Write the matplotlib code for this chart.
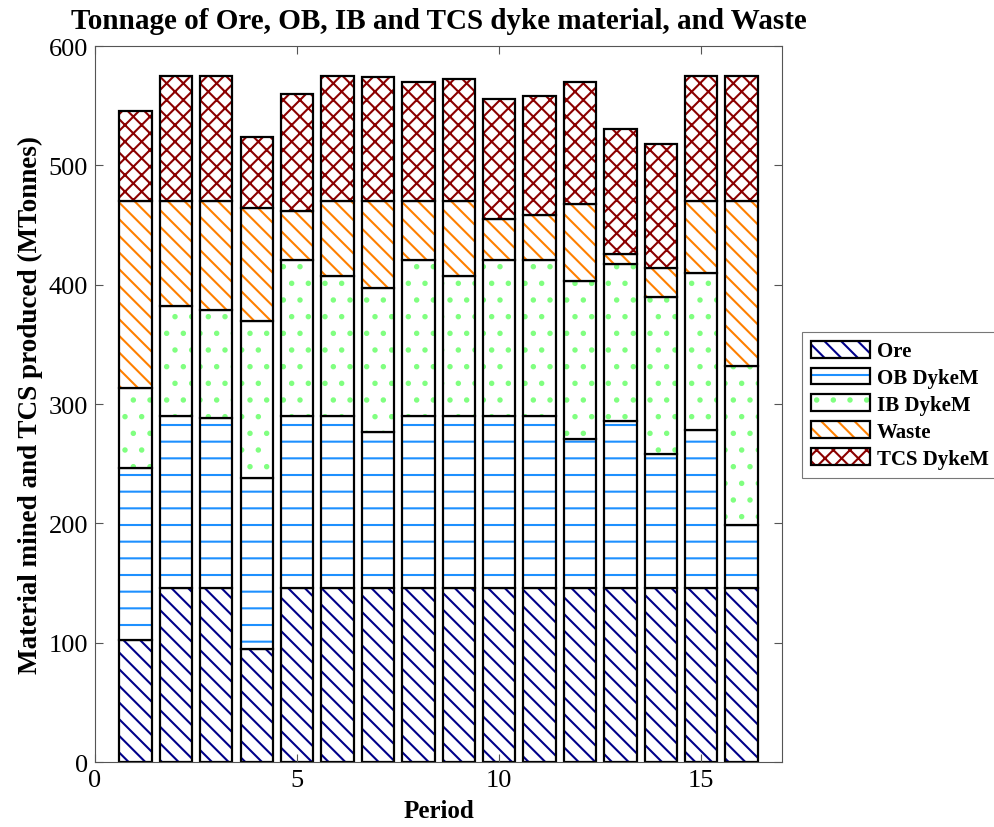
import numpy as np
import matplotlib
matplotlib.use('Agg')
import matplotlib.pyplot as plt
from matplotlib.patches import Patch

plt.rcParams['font.family'] = ['Liberation Serif', 'DejaVu Serif']
plt.rcParams['hatch.linewidth'] = 1.5

periods = np.arange(1, 17)

# tonnage per period (MTonnes)
ore = [102.5, 145.5, 145.5, 94.7, 145.5, 145.5, 145.5, 145.5,
       145.5, 145.5, 145.5, 145.5, 145.5, 145.5, 145.5, 145.5]
ob_dyke = [143.9, 144.7, 142.8, 143.3, 144.5, 144.5, 131.3, 144.5,
           144.5, 144.5, 144.5, 125.0, 140.0, 112.6, 132.7, 53.4]
ib_dyke = [67.0, 92.2, 90.5, 131.8, 131.2, 117.3, 120.2, 131.0,
           117.3, 131.2, 131.0, 133.1, 131.8, 131.3, 131.6, 132.7]
waste = [157.0, 87.6, 91.2, 94.8, 40.8, 62.7, 73.0, 49.0,
         62.7, 33.6, 37.7, 64.3, 8.9, 24.3, 60.2, 138.4]
tcs_dyke = [75.4, 104.6, 105.0, 59.7, 97.8, 105.0, 104.0, 100.1,
            102.9, 100.8, 99.4, 102.1, 104.0, 104.2, 105.0, 105.0]

names = ['Ore', 'OB DykeM', 'IB DykeM', 'Waste', 'TCS DykeM']
series = [ore, ob_dyke, ib_dyke, waste, tcs_dyke]
colors = ['#00008B', '#1E90FF', '#80FF80', '#FF8000', '#8B0000']
hatches = ['\\\\', '-', '.', '\\\\', 'xx']

fig = plt.figure(figsize=(9.95, 8.28), dpi=100)
ax = fig.add_axes([0.0955, 0.0785, 0.6905, 0.8645])

bottom = np.zeros(len(periods))
handles = []
for vals, col, h, name in zip(series, colors, hatches, names):
    vals = np.array(vals)
    # hatch layer then black outline
    ax.bar(periods, vals, 0.8, bottom=bottom, color='white', edgecolor=col,
           hatch=h, linewidth=0)
    ax.bar(periods, vals, 0.8, bottom=bottom, fill=False, edgecolor='black',
           linewidth=1.6)
    bottom += vals
    handles.append((Patch(facecolor='white', edgecolor=col, hatch=h, linewidth=0),
                    Patch(fill=False, edgecolor='black', linewidth=1.6)))

ax.set_xlim(0, 17)
ax.set_ylim(0, 600)
ax.set_xticks([0, 5, 10, 15])
ax.set_yticks(range(0, 601, 100))
ax.tick_params(direction='in', top=True, right=True, labelsize=19,
               length=6, color='#555555', pad=5)
for s in ax.spines.values():
    s.set_color('#555555')
    s.set_linewidth(0.8)

ax.set_title('Tonnage of Ore, OB, IB and TCS dyke material, and Waste',
             fontsize=21, fontweight='bold', pad=13)
ax.set_xlabel('Period', fontsize=18, fontweight='bold', labelpad=6)
ax.set_ylabel('Material mined and TCS produced (MTonnes)', fontsize=19.5,
              fontweight='bold', labelpad=4)

leg = fig.legend(handles, names, loc='center left', bbox_to_anchor=(0.806, 0.51),
                 prop={'weight': 'bold', 'size': 15},
                 handlelength=2.8, handleheight=0.85, handletextpad=0.35,
                 labelspacing=0.3, fancybox=False, borderpad=0.45,
                 borderaxespad=0, edgecolor='#555555')
leg.get_frame().set_linewidth(0.8)

fig.savefig('out.png', dpi=100)
